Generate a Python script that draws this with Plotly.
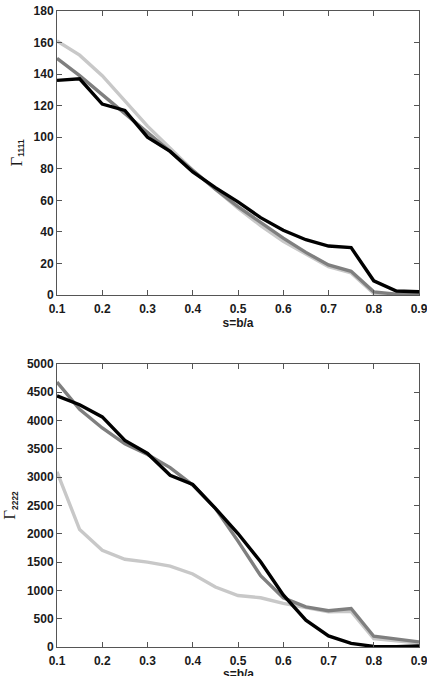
import plotly.graph_objects as go
from plotly.subplots import make_subplots

s = [0.1, 0.15, 0.2, 0.25, 0.3, 0.35, 0.4, 0.45, 0.5, 0.55, 0.6, 0.65, 0.7, 0.75, 0.8, 0.85, 0.9]

g1111_black = [136, 137, 121, 117, 100, 91, 78, 68, 59, 49, 41, 35, 31, 30, 9, 2.5, 2]
g1111_dark = [150, 139, 127, 115, 103, 91, 79, 67, 56, 46, 36, 27, 19, 15, 2, 0.5, 1]
g1111_light = [161, 152, 139, 123, 107, 93, 79, 67, 55, 44, 34, 26, 18, 14, 1, 0, 0.5]

g2222_black = [4435, 4280, 4065, 3650, 3420, 3035, 2870, 2450, 2005, 1505, 920, 475, 195, 65, 10, 5, 20]
g2222_dark = [4680, 4200, 3870, 3590, 3400, 3170, 2860, 2450, 1870, 1260, 870, 710, 640, 680, 190, 140, 90]
g2222_light = [3095, 2075, 1710, 1550, 1500, 1430, 1290, 1060, 910, 870, 770, 700, 620, 630, 150, 110, 70]

colors = {"black": "#000000", "dark": "#7f7f7f", "light": "#c8c8c8"}

fig = make_subplots(rows=2, cols=1, vertical_spacing=0.1)

for row, series in [(1, [(g1111_light, "light"), (g1111_dark, "dark"), (g1111_black, "black")]),
                    (2, [(g2222_light, "light"), (g2222_dark, "dark"), (g2222_black, "black")])]:
    for vals, key in series:
        fig.add_trace(go.Scatter(x=s, y=vals, mode="lines",
                                 line=dict(color=colors[key], width=3.4),
                                 showlegend=False), row=row, col=1)

font = dict(family="Liberation Sans, Arial, sans-serif", size=12, color="#1a1a1a", weight="bold")
axis_common = dict(showline=True, mirror="ticks", linecolor="#555555", linewidth=1,
                   ticks="inside", ticklen=5, tickcolor="#555555", showgrid=False,
                   zeroline=False, tickfont=font, automargin=False)

fig.update_xaxes(range=[0.1, 0.9], dtick=0.1, tick0=0.1, tickformat=".1f",
                 ticklabeloverflow="allow", ticklabelstandoff=3, **axis_common)
fig.update_xaxes(title=dict(text="s=b/a", font=font, standoff=2), row=1, col=1)
fig.update_yaxes(range=[0, 180], dtick=20, row=1, col=1,
                 title=dict(text="<span style='font-family:Liberation Serif;font-weight:normal;font-size:17px'>Γ</span><sub>1111</sub>",
                            font=font, standoff=8), **axis_common)
fig.update_yaxes(range=[0, 5000], dtick=500, row=2, col=1,
                 title=dict(text="<span style='font-family:Liberation Serif;font-weight:normal;font-size:17px'>Γ</span><sub>2222</sub>",
                            font=font, standoff=8), **axis_common)

# bottom x-axis title placed below tick labels (partly clipped by page edge, as in reference)
fig.add_annotation(text="s=b/a", font=font, showarrow=False,
                   xref="x2 domain", yref="y2 domain", x=0.5, y=-0.094,
                   xanchor="center", yanchor="middle")

fig.update_layout(
    width=427, height=676,
    margin=dict(l=57, r=8, t=11, b=29),
    plot_bgcolor="white", paper_bgcolor="white",
    xaxis=dict(domain=[0, 1]), xaxis2=dict(domain=[0, 1]),
    yaxis=dict(domain=[0.5535, 1]), yaxis2=dict(domain=[0, 0.445]),
)

fig.write_html("out.html")
